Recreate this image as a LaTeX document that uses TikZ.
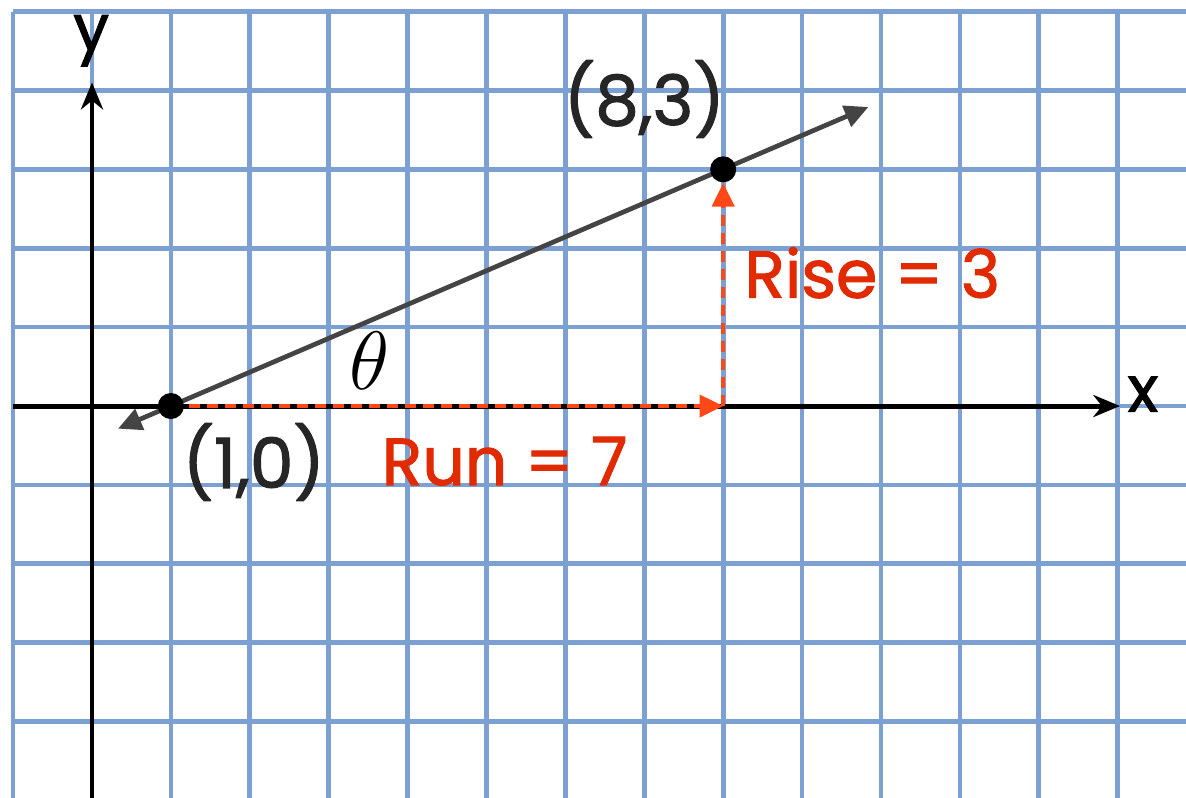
\documentclass[tikz,border=0pt]{standalone}
\usepackage{fontspec}
\setmainfont{Poppins}
\newfontfamily\chalkfont{Poppins}[FakeBold=1.6]
\usepackage{xcolor}
\usetikzlibrary{arrows.meta,positioning}
\definecolor{gridblue}{RGB}{125,160,210}
\definecolor{linegray}{RGB}{68,68,68}
\definecolor{runred}{RGB}{226,42,0}
\definecolor{dashred}{RGB}{255,72,24}

\begin{document}
\begin{tikzpicture}[
	gridline/.style={gridblue, line width=1.7pt},
	axis/.style={-{Stealth[length=0.34cm,width=0.28cm]}, line width=1.8pt, black},
	slopeline/.style={{Triangle[length=0.3cm,width=0.28cm]}-{Triangle[length=0.3cm,width=0.28cm]}, linegray, line width=1.7pt},
	legline/.style={-{Triangle[length=0.3cm,width=0.28cm]}, dashred, line width=1.4pt, dash pattern=on 4pt off 2.5pt},
	pt/.style={circle, fill=black, inner sep=0pt, minimum size=0.33cm},
	coordlabel/.style={text=black!85, font=\chalkfont\fontsize{25}{28}\selectfont},
	redlabel/.style={text=runred, font=\chalkfont\fontsize{24}{28}\selectfont}
	]
	\useasboundingbox (-1.166,-4.956) rectangle (13.866,5.146);
	\fill[white] (-1.166,-4.956) rectangle (13.866,5.146);
	% graph paper
	\begin{scope}
		\clip (-1.166,-4.956) rectangle (13.866,5.146);
		\foreach \i in {-1,...,13}
			\draw[gridline] (\i,-5.2) -- (\i,5);
		\foreach \j in {-5,...,5}
			\draw[gridline] (-1,\j) -- (14,\j);
	\end{scope}
	% axes
	\coordinate (xstart) at (-1,0);
	\coordinate (xend) at (13.03,0);
	\coordinate (ystart) at (0,-5.2);
	\coordinate (yend) at (0,4.1);
	\draw[axis] (xstart) -- (xend);
	\draw[axis] (ystart) -- (yend);
	\node[font=\chalkfont\fontsize{23}{26}\selectfont] (xlab) at (13.32,0.15) {x};
	\node[font=\chalkfont\fontsize{23}{26}\selectfont] (ylab) at (-0.01,4.63) {y};
	% line through the two points
	\coordinate (lowend) at (0.33,-0.287);
	\coordinate (highend) at (9.84,3.79);
	\coordinate (corner) at (8,0);
	\draw[slopeline] (lowend) -- (highend);
	\draw[legline] (1,0) -- (corner);
	\node[pt] (p1) at (1,0) {};
	\node[pt] (p2) at (8,3) {};
	\draw[legline] (corner) -- (p2);
	% labels
	\node[coordlabel] (p1lab) at (2.05,-0.71) {(1,0)};
	\node[coordlabel] (p2lab) at (7.0,3.89) {(8,3)};
	\node[redlabel] (run) at (5.23,-0.70) {Run = 7};
	\node[redlabel] (rise) at (9.89,1.69) {Rise = 3};
	\node[font=\Huge] (theta) at (3.52,0.57) {\scalebox{1.2}{$\theta$}};
\end{tikzpicture}
\end{document}
